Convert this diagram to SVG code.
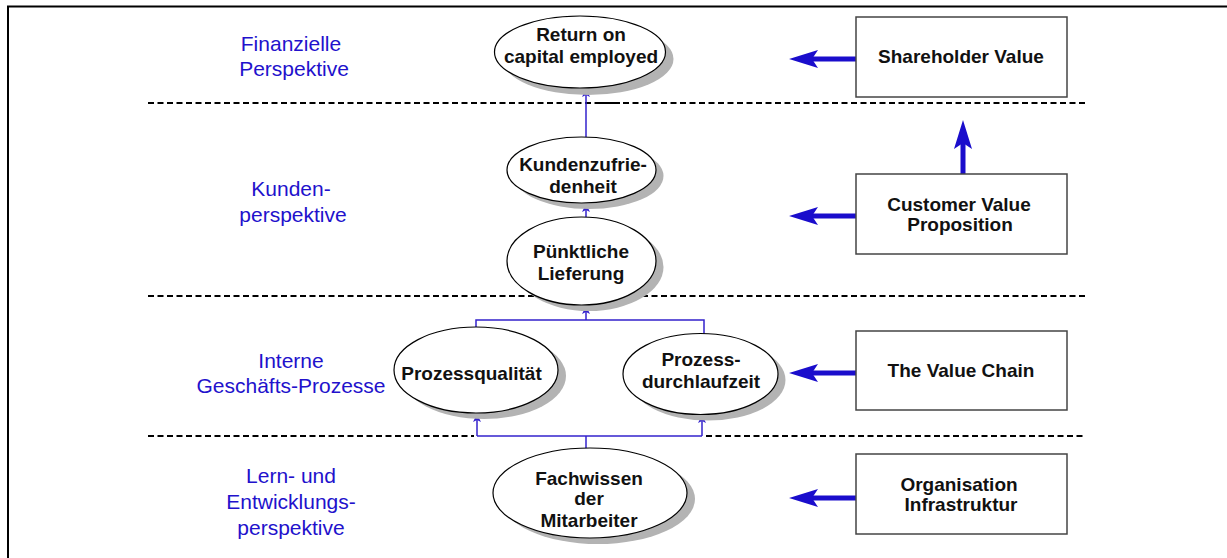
<svg xmlns="http://www.w3.org/2000/svg" width="1227" height="558" viewBox="0 0 1227 558">
  <style>
    .frame { fill: none; stroke: #000; stroke-width: 2; }
    .sep { fill: none; stroke: #000; stroke-width: 2; stroke-dasharray: 6 3.5; }
    .lbl { font-family: "Liberation Sans", Arial, sans-serif; font-size: 21px; fill: #2211cc; text-anchor: middle; }
    .nt { font-family: "Liberation Sans", Arial, sans-serif; font-size: 19px; font-weight: bold; fill: #111; text-anchor: middle; }
    .ell { fill: #fff; stroke: #000; stroke-width: 1.2; }
    .shd { fill: #b3b3b3; stroke: none; }
    .box { fill: #fff; stroke: #444; stroke-width: 1.5; }
    .thin { fill: none; stroke: #3322cc; stroke-width: 1.5; }
    .thick { fill: none; stroke: #1a0dcc; stroke-width: 5; }
  </style>
  <defs>
    <marker id="small" viewBox="-9 -5 10 10" refX="0" refY="0" markerWidth="10" markerHeight="10" markerUnits="userSpaceOnUse" orient="auto">
      <path d="M0,0 L-8,-4 L-6,0 L-8,4 z" fill="#3322cc"/>
    </marker>
    <marker id="big" viewBox="-7 -10 31 20" refX="0" refY="0" markerWidth="31" markerHeight="20" markerUnits="userSpaceOnUse" orient="auto">
      <path d="M23,0 L-6,-9 L0,0 L-6,9 z" fill="#1a0dcc"/>
    </marker>
  </defs>

  <!-- outer frame: left and top edges -->
  <path class="frame" d="M8,558 V6.5 H1227"/>

  <!-- perspective separators -->
  <g id="separators">
    <line class="sep" x1="148" y1="103" x2="1086" y2="103"/>
    <line x1="596" y1="103" x2="620" y2="103" stroke="#000" stroke-width="2"/>
    <line class="sep" x1="148" y1="296" x2="1086" y2="296"/>
    <line class="sep" x1="148" y1="436" x2="474" y2="436"/>
    <line class="sep" x1="706" y1="436" x2="1086" y2="436"/>
  </g>

  <!-- perspective labels -->
  <g id="label-finanz">
    <text class="lbl" x="291" y="51">Finanzielle</text>
    <text class="lbl" x="294" y="76">Perspektive</text>
  </g>
  <g id="label-kunden">
    <text class="lbl" x="291" y="196">Kunden-</text>
    <text class="lbl" x="293" y="222">perspektive</text>
  </g>
  <g id="label-intern">
    <text class="lbl" x="291" y="368">Interne</text>
    <text class="lbl" x="291" y="393">Geschäfts-Prozesse</text>
  </g>
  <g id="label-lern">
    <text class="lbl" x="291" y="483">Lern- und</text>
    <text class="lbl" x="291" y="509">Entwicklungs-</text>
    <text class="lbl" x="291" y="535">perspektive</text>
  </g>

  <!-- connectors -->
  <g id="connectors">
    <line class="thin" x1="586" y1="137" x2="586" y2="89" marker-end="url(#small)"/>
    <line class="thin" x1="586" y1="217" x2="586" y2="204" marker-end="url(#small)"/>
    <path class="thin" d="M476,327 V320 H704 V334"/>
    <line class="thin" x1="586" y1="320" x2="586" y2="306" marker-end="url(#small)"/>
    <line class="thin" x1="477" y1="436" x2="702" y2="436"/>
    <line class="thin" x1="477" y1="436" x2="477" y2="414" marker-end="url(#small)"/>
    <line class="thin" x1="702" y1="436" x2="702" y2="415" marker-end="url(#small)"/>
    <line class="thin" x1="586" y1="436" x2="586" y2="449"/>
    <line class="thick" x1="856" y1="59" x2="812" y2="59" marker-end="url(#big)"/>
    <line class="thick" x1="856" y1="216" x2="812" y2="216" marker-end="url(#big)"/>
    <line class="thick" x1="856" y1="373" x2="812" y2="373" marker-end="url(#big)"/>
    <line class="thick" x1="856" y1="498" x2="812" y2="498" marker-end="url(#big)"/>
    <line class="thick" x1="963" y1="174" x2="963" y2="143" marker-end="url(#big)"/>
  </g>

  <!-- measure nodes -->
  <g id="roce">
    <ellipse class="shd" cx="588" cy="59" rx="85.5" ry="36"/>
    <ellipse class="ell" cx="580" cy="52" rx="85.5" ry="36"/>
    <text class="nt" x="581" y="41">Return on</text>
    <text class="nt" x="581" y="63">capital employed</text>
  </g>
  <g id="kundenzufriedenheit">
    <ellipse class="shd" cx="589" cy="176" rx="74.5" ry="33"/>
    <ellipse class="ell" cx="581.5" cy="170" rx="74.5" ry="33"/>
    <text class="nt" x="583" y="171">Kundenzufrie-</text>
    <text class="nt" x="583" y="193">denheit</text>
  </g>
  <g id="lieferung">
    <ellipse class="shd" cx="589" cy="267" rx="74.5" ry="44"/>
    <ellipse class="ell" cx="581.5" cy="261" rx="74.5" ry="44"/>
    <text class="nt" x="581" y="258">Pünktliche</text>
    <text class="nt" x="581" y="280">Lieferung</text>
  </g>
  <g id="prozessqualitaet">
    <ellipse class="shd" cx="484" cy="376" rx="82" ry="43"/>
    <ellipse class="ell" cx="476" cy="370" rx="82" ry="43"/>
    <text class="nt" x="471.5" y="380">Prozessqualität</text>
  </g>
  <g id="durchlaufzeit">
    <ellipse class="shd" cx="708" cy="380" rx="77.5" ry="40.5"/>
    <ellipse class="ell" cx="700.5" cy="374" rx="77.5" ry="40.5"/>
    <text class="nt" x="701" y="366">Prozess-</text>
    <text class="nt" x="701" y="388">durchlaufzeit</text>
  </g>
  <g id="fachwissen">
    <ellipse class="shd" cx="598" cy="499" rx="97" ry="45"/>
    <ellipse class="ell" cx="590" cy="493" rx="97" ry="45"/>
    <text class="nt" x="589" y="485">Fachwissen</text>
    <text class="nt" x="589" y="505">der</text>
    <text class="nt" x="589" y="527">Mitarbeiter</text>
  </g>

  <!-- driver boxes -->
  <g id="shareholder">
    <rect class="box" x="856" y="17" width="211" height="80"/>
    <text class="nt" x="961" y="63">Shareholder Value</text>
  </g>
  <g id="customer">
    <rect class="box" x="856" y="174" width="211" height="80"/>
    <text class="nt" x="959" y="211">Customer Value</text>
    <text class="nt" x="960" y="231">Proposition</text>
  </g>
  <g id="valuechain">
    <rect class="box" x="856" y="331" width="211" height="79"/>
    <text class="nt" x="961" y="377">The Value Chain</text>
  </g>
  <g id="organisation">
    <rect class="box" x="856" y="454" width="211" height="80"/>
    <text class="nt" x="959" y="491">Organisation</text>
    <text class="nt" x="961" y="511">Infrastruktur</text>
  </g>
</svg>
